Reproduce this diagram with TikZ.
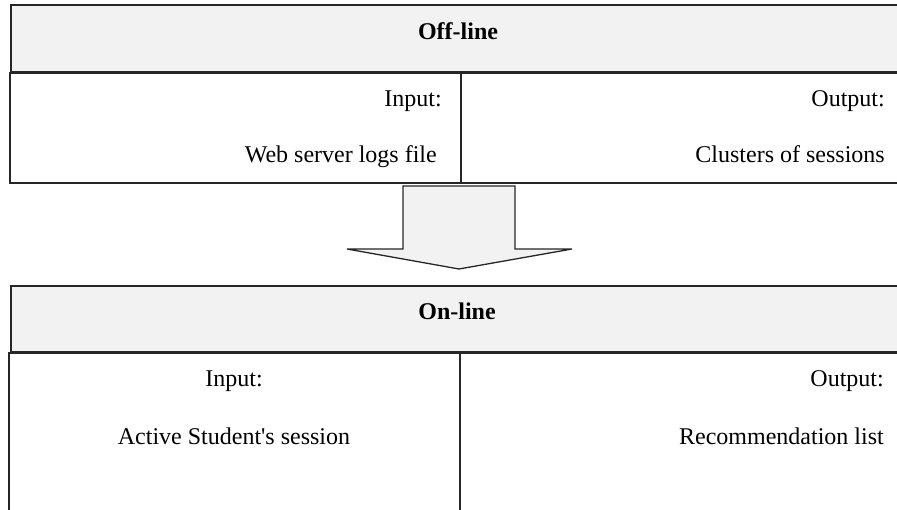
\documentclass[tikz,border=0pt]{standalone}
\usepackage{fontspec}
\setmainfont{Liberation Serif}[Ligatures=TeXOff]
\begin{document}
\begin{tikzpicture}[x=1pt,y=-1pt,
  frame/.style={draw=black!85,line width=1.6pt},
  head/.style={frame,fill=black!5},
  cell/.style={frame,fill=white},
  txt/.style={inner sep=0pt,font=\fontsize{24}{28}\selectfont},
  title/.style={txt,font=\fontsize{24}{28}\selectfont\bfseries}]
\useasboundingbox (0,0) rectangle (897,510);
\clip (0,0) rectangle (897,510);

% Off-line block
\draw[head] (11,5) rectangle (905,72);
\draw[cell] (10,73) rectangle (461,183);
\draw[cell] (461,73) rectangle (905,183);
\node[title,anchor=base] (offt) at (458,40) {Off-line};
\node[txt,anchor=base east] (offin) at (442,107) {Input:};
\node[txt,anchor=base east] (offinv) at (437,163) {Web server logs file};
\node[txt,anchor=base east] (offout) at (885,107) {Output:};
\node[txt,anchor=base east] (offoutv) at (885,163) {Clusters of sessions};

% Block arrow between the two stages
\draw[frame,fill=black!5,line width=1.3pt,line join=miter]
  (403,186) -- (515,186) -- (515,249) -- (572,249) -- (459,269)
  -- (347,249) -- (403,249) -- cycle;

% On-line block
\draw[head] (11,286) rectangle (905,352);
\draw[cell] (9,353) rectangle (460,520);
\draw[cell] (460,353) rectangle (905,520);
\node[title,anchor=base] (ont) at (457,320) {On-line};
\node[txt,anchor=base] (onin) at (234,387) {Input:};
\node[txt,anchor=base] (oninv) at (234,444) {Active Student's session};
\node[txt,anchor=base east] (onout) at (884,387) {Output:};
\node[txt,anchor=base east] (onoutv) at (884,444) {Recommendation list};
\end{tikzpicture}
\end{document}
